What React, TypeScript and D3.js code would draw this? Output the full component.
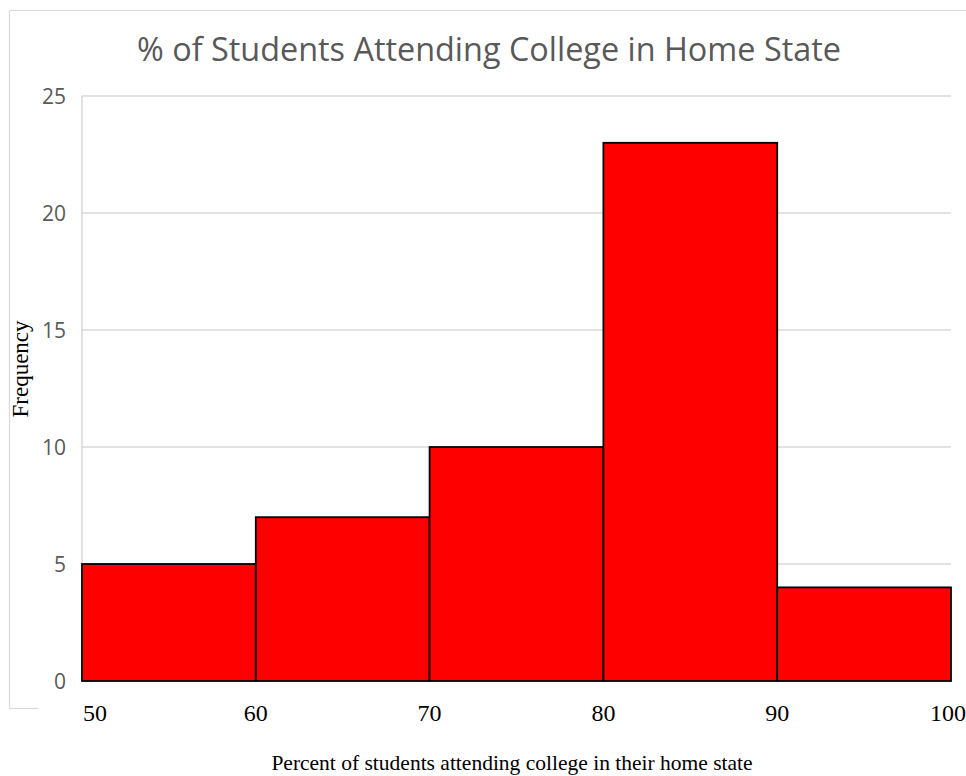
import React, { useEffect } from "react";
import * as d3 from "d3";

// Histogram bins and counts
const binStarts = [50, 60, 70, 80, 90];
const binEnds = [60, 70, 80, 90, 100];
const frequencies = [5, 7, 10, 23, 4];
const yTicks = [0, 5, 10, 15, 20, 25];
const xTicks = [50, 60, 70, 80, 90, 100];

const TITLE = "% of Students Attending College in Home State";
const X_TITLE = "Percent of students attending college in their home state";
const Y_TITLE = "Frequency";

const W = 966;
const H = 776;

export default function App() {
    useEffect(() => {
        document.body.style.margin = "0";
    }, []);

    const x = d3.scaleLinear().domain([50, 100]).range([82, 951]);
    const y = d3.scaleLinear().domain([0, 25]).range([681, 96]);

    const sans = "'Open Sans', 'DejaVu Sans', sans-serif";
    const serif = "'Liberation Serif', 'Times New Roman', serif";

    return (
        <svg width={W} height={H} style={{ display: "block", background: "#fff" }}>
            {/* chart frame (partly hidden, as in the original) */}
            <g stroke="#d9d9d9" strokeWidth={1.2} fill="none">
                <line x1={9.5} y1={10.5} x2={W} y2={10.5} />
                <line x1={9.5} y1={10.5} x2={9.5} y2={708.5} />
                <line x1={9.5} y1={708.5} x2={38} y2={708.5} />
            </g>

            {/* title */}
            <text x={489} y={61} textAnchor="middle" fontFamily={sans} fontSize={32.4} fill="#595959">
                {TITLE}
            </text>

            {/* gridlines */}
            <g stroke="#d9d9d9" strokeWidth={1.5}>
                {yTicks.map(t => (
                    <line key={t} x1={x(50)} x2={x(100)} y1={y(t)} y2={y(t)} />
                ))}
                <line x1={x(50)} x2={x(50)} y1={y(25)} y2={y(0)} />
            </g>

            {/* y tick labels */}
            <g fontFamily={sans} fontSize={21} fill="#595959" textAnchor="end">
                {yTicks.map(t => (
                    <text key={t} x={66} y={y(t)} dy="0.36em">{t}</text>
                ))}
            </g>

            {/* bars */}
            <g fill="#ff0000" stroke="#000" strokeWidth={1.8}>
                {frequencies.map((f, i) => (
                    <rect
                        key={i}
                        x={x(binStarts[i])}
                        y={y(f)}
                        width={x(binEnds[i]) - x(binStarts[i])}
                        height={y(0) - y(f)}
                    />
                ))}
            </g>

            {/* x tick labels */}
            <g fontFamily={serif} fontSize={24} fill="#000">
                {xTicks.map((t, i) => {
                    const first = i === 0;
                    const last = i === xTicks.length - 1;
                    return (
                        <text
                            key={t}
                            x={first ? x(t) + 1 : last ? W : x(t)}
                            y={721}
                            textAnchor={first ? "start" : last ? "end" : "middle"}
                        >
                            {t}
                        </text>
                    );
                })}
            </g>

            {/* axis titles */}
            <text x={512} y={770} textAnchor="middle" fontFamily={serif} fontSize={21.5} fill="#000">
                {X_TITLE}
            </text>
            <text
                transform="translate(28,369) rotate(-90)"
                textAnchor="middle"
                fontFamily={serif}
                fontSize={23}
                fill="#000"
            >
                {Y_TITLE}
            </text>
        </svg>
    );
}
